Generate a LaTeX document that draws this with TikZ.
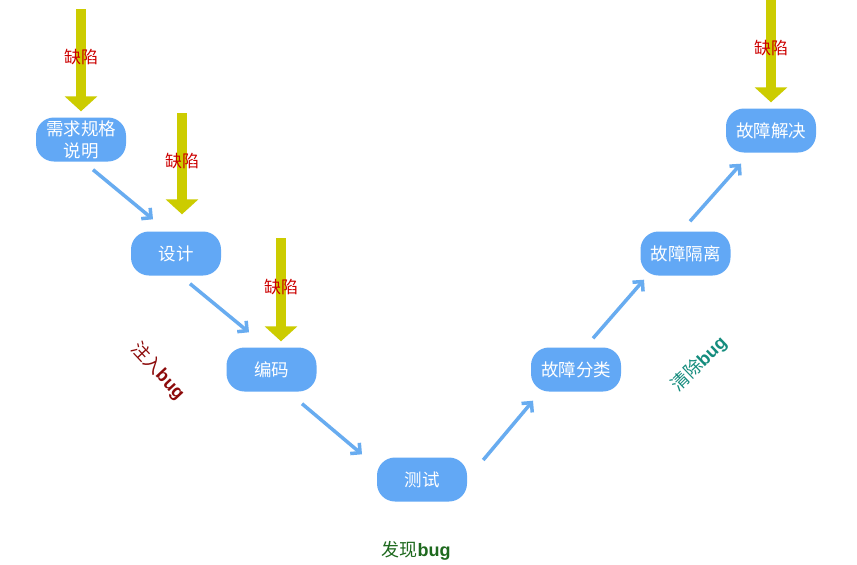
\documentclass[tikz,border=0pt]{standalone}
\usepackage{fontspec}
\setmainfont{Liberation Sans}
\newfontfamily\cjk{Noto Sans CJK SC}
\usetikzlibrary{arrows.meta,calc}
\definecolor{boxblue}{RGB}{98,168,245}
\definecolor{arrblue}{RGB}{104,172,240}
\definecolor{defyel}{RGB}{204,204,0}
\definecolor{defred}{RGB}{204,0,0}
\definecolor{injred}{RGB}{140,10,10}
\definecolor{clrteal}{RGB}{20,140,125}
\definecolor{fndgreen}{RGB}{30,105,30}
\tikzset{
  stage/.style={fill=boxblue, rounded corners=18pt, minimum width=90pt, minimum height=44pt,
    inner sep=0pt, text=white, font=\cjk\fontsize{17.5}{22}\selectfont, align=center},
  flow/.style={draw=arrblue, line width=3.5pt, -{Straight Barb[length=7pt,width=14pt]}},
  defect/.style={draw=defyel, line width=10pt, -{Triangle[width=32pt,length=15pt]}},
  deflabel/.style={text=defred, font=\cjk\fontsize{17}{20}\selectfont, inner sep=0pt},
  phase/.style={font=\fontsize{18}{21}\selectfont, inner sep=0pt}
}
\begin{document}
\begin{tikzpicture}[x=1pt,y=-1pt]
\useasboundingbox (0,0) rectangle (857,565);
\fill[white] (0,0) rectangle (857,565);
% stages
\node[stage] (req) at (81,139.5) {需求规格\\说明};
\node[stage] (des) at (176,253.5) {设计};
\node[stage] (cod) at (271.5,369.5) {编码};
\node[stage] (tst) at (422,479.5) {测试};
\node[stage] (cls) at (576,369.5) {故障分类};
\node[stage] (iso) at (685.5,253.5) {故障隔离};
\node[stage] (fix) at (771,130.5) {故障解决};
% flow arrows
\draw[flow] ($(req.south)+(12,8)$) -- ($(des.north)+(-23,-12)$);
\draw[flow] ($(des.south)+(14,8)$) -- ($(cod.north)+(-22.5,-15)$);
\draw[flow] ($(cod.south)+(30.5,12)$) -- ($(tst.north)+(-60,-3)$);
\draw[flow] ($(tst.east)+(16,-19.5)$) -- ($(cls.south)+(-43,9)$);
\draw[flow] ($(cls.north)+(17,-9)$) -- ($(iso.south)+(-41.5,4)$);
\draw[flow] ($(iso.north)+(4.5,-10)$) -- ($(fix.south)+(-30,11)$);
% defect arrows
\coordinate (t1) at (81,9);
\coordinate (t2) at (182,113);
\coordinate (t3) at (281,238);
\coordinate (t4) at (771,0);
\draw[defect, shorten >=6pt] (t1) -- (t1 |- req.north);
\draw[defect, shorten >=17pt] (t2) -- (t2 |- des.north);
\draw[defect, shorten >=6pt] (t3) -- (t3 |- cod.north);
\draw[defect, shorten >=6pt] (t4) -- (t4 |- fix.north);
\node[deflabel] (d1) at (81,57) {缺陷};
\node[deflabel] (d2) at (182,161) {缺陷};
\node[deflabel] (d3) at (281,287) {缺陷};
\node[deflabel] (d4) at (771,48) {缺陷};
% phase labels
\node[phase, text=injred, rotate=-47] (inj) at (158,371) {{\cjk 注入}\textbf{bug}};
\node[phase, text=clrteal, rotate=44] (clr) at (699,364) {{\cjk 清除}\textbf{bug}};
\node[phase, text=fndgreen] (fnd) at (416,551) {{\cjk 发现}\textbf{bug}};
\end{tikzpicture}
\end{document}
